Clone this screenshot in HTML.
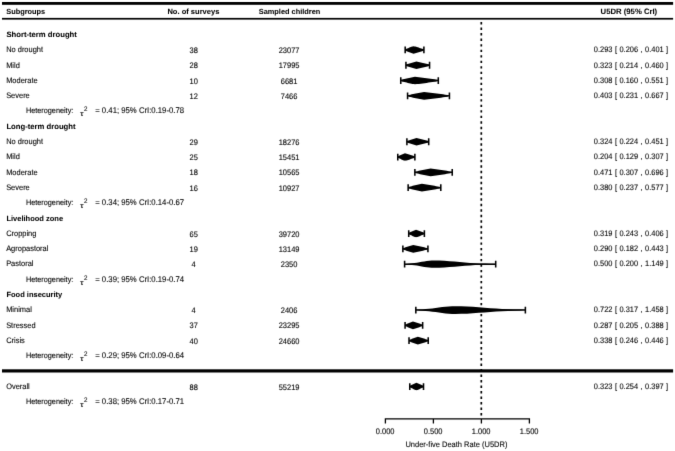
<!DOCTYPE html>
<html><head><meta charset="utf-8"><title>Forest plot</title>
<style>
html,body{margin:0;padding:0;background:#fff}
svg{display:block}
text{font-family:"Liberation Sans",Arial,Helvetica,sans-serif;font-size:7.97px;fill:#000;stroke:#000;stroke-width:0.1px;text-rendering:geometricPrecision}
.b{font-weight:bold;stroke-width:0.05px}
.m{text-anchor:middle}
.e{text-anchor:end}
</style></head><body>
<svg width="675" height="451" viewBox="0 0 675 451">
<defs><filter id="bl" x="0" y="0" width="675" height="451" filterUnits="userSpaceOnUse" color-interpolation-filters="sRGB"><feConvolveMatrix order="3" kernelMatrix="0 1 0 1 8 1 0 1 0" divisor="12" edgeMode="duplicate" preserveAlpha="false"/></filter></defs>
<g filter="url(#bl)">
<rect width="675" height="451" fill="#fff"/>

<rect x="2" y="2.0" width="671.1" height="2.8" fill="#000"/>
<rect x="2" y="17.9" width="671.1" height="1.7" fill="#000"/>
<rect x="2" y="369.3" width="671.1" height="3.2" fill="#000"/>
<text class="b" style="font-size:7.40px" transform="translate(6.20 14.00) scale(1.0000 1)">Subgroups</text>
<text class="b m" style="font-size:7.55px" transform="translate(193.40 14.00) scale(1.0000 1)">No. of surveys</text>
<text class="b m" style="font-size:7.38px" transform="translate(289.50 14.00) scale(1.0000 1)">Sampled children</text>
<text class="b e" style="font-size:7.72px" transform="translate(657.20 14.00) scale(1.0000 1)">U5DR (95% CrI)</text>
<line x1="481.3" y1="22.1" x2="481.3" y2="418.5" stroke="#000" stroke-width="1.7" stroke-dasharray="2.4 3.107"/>
<text class="b" style="font-size:7.70px" transform="translate(6.40 36.90) scale(1.0000 1)">Short-term drought</text>
<text style="font-size:7.97px" transform="translate(6.15 52.20) scale(0.9346 1)">No drought</text>
<text class="m" style="font-size:8.03px" transform="translate(193.70 53.00) scale(0.9346 1)">38</text>
<text class="m" style="font-size:8.03px" transform="translate(289.10 53.00) scale(0.9346 1)">23077</text>
<text class="e" style="font-size:7.97px" word-spacing="0.4" transform="translate(668.20 52.20) scale(0.9346 1)">0.293 [ 0.206 , 0.401 ]</text>
<path d="M405.18 46.55V53.35M423.90 46.55V53.35" stroke="#000" stroke-width="1.55" fill="none"/>
<path d="M405.18 49.95H423.90" stroke="#000" stroke-width="1.45" fill="none"/>
<path d="M405.18 49.45 L405.87 49.05 L406.57 48.73 L407.26 48.43 L407.96 48.15 L408.66 47.88 L409.35 47.62 L410.05 47.36 L410.74 47.11 L411.44 46.87 L412.14 46.62 L412.83 46.39 L413.53 46.15 L414.39 46.39 L415.26 46.62 L416.12 46.87 L416.98 47.11 L417.85 47.36 L418.71 47.62 L419.58 47.88 L420.44 48.15 L421.30 48.43 L422.17 48.73 L423.03 49.05 L423.90 49.45 L423.03 50.85 L422.17 51.17 L421.30 51.47 L420.44 51.75 L419.58 52.02 L418.71 52.28 L417.85 52.54 L416.98 52.79 L416.12 53.03 L415.26 53.28 L414.39 53.51 L413.53 53.75 L412.83 53.51 L412.14 53.28 L411.44 53.03 L410.74 52.79 L410.05 52.54 L409.35 52.28 L408.66 52.02 L407.96 51.75 L407.26 51.47 L406.57 51.17 L405.87 50.85Z" fill="#000"/>
<text style="font-size:7.97px" transform="translate(6.15 67.50) scale(0.9346 1)">Mild</text>
<text class="m" style="font-size:8.03px" transform="translate(193.70 68.30) scale(0.9346 1)">28</text>
<text class="m" style="font-size:8.03px" transform="translate(289.10 68.30) scale(0.9346 1)">17995</text>
<text class="e" style="font-size:7.97px" word-spacing="0.4" transform="translate(668.20 67.50) scale(0.9346 1)">0.323 [ 0.214 , 0.460 ]</text>
<path d="M405.94 61.85V68.65M429.56 61.85V68.65" stroke="#000" stroke-width="1.55" fill="none"/>
<path d="M405.94 65.25H429.56" stroke="#000" stroke-width="1.45" fill="none"/>
<path d="M405.94 64.75 L406.82 64.35 L407.69 64.03 L408.56 63.73 L409.43 63.45 L410.30 63.18 L411.18 62.92 L412.05 62.66 L412.92 62.41 L413.79 62.17 L414.66 61.92 L415.54 61.69 L416.41 61.45 L417.50 61.69 L418.60 61.92 L419.70 62.17 L420.79 62.41 L421.89 62.66 L422.98 62.92 L424.08 63.18 L425.18 63.45 L426.27 63.73 L427.37 64.03 L428.46 64.35 L429.56 64.75 L428.46 66.15 L427.37 66.47 L426.27 66.77 L425.18 67.05 L424.08 67.32 L422.98 67.58 L421.89 67.84 L420.79 68.09 L419.70 68.33 L418.60 68.58 L417.50 68.81 L416.41 69.05 L415.54 68.81 L414.66 68.58 L413.79 68.33 L412.92 68.09 L412.05 67.84 L411.18 67.58 L410.30 67.32 L409.43 67.05 L408.56 66.77 L407.69 66.47 L406.82 66.15Z" fill="#000"/>
<text style="font-size:7.97px" transform="translate(6.15 82.80) scale(0.9346 1)">Moderate</text>
<text class="m" style="font-size:8.03px" transform="translate(193.70 83.60) scale(0.9346 1)">10</text>
<text class="m" style="font-size:8.03px" transform="translate(289.10 83.60) scale(0.9346 1)">6681</text>
<text class="e" style="font-size:7.97px" word-spacing="0.4" transform="translate(668.20 82.80) scale(0.9346 1)">0.308 [ 0.160 , 0.551 ]</text>
<path d="M400.76 77.15V83.95M438.30 77.15V83.95" stroke="#000" stroke-width="1.55" fill="none"/>
<path d="M400.76 80.55H438.30" stroke="#000" stroke-width="1.45" fill="none"/>
<path d="M400.76 80.05 L401.94 79.65 L403.13 79.33 L404.31 79.03 L405.50 78.75 L406.68 78.48 L407.86 78.22 L409.05 77.96 L410.23 77.71 L411.42 77.47 L412.60 77.22 L413.78 76.99 L414.97 76.75 L416.91 76.99 L418.86 77.22 L420.80 77.47 L422.74 77.71 L424.69 77.96 L426.63 78.22 L428.58 78.48 L430.52 78.75 L432.46 79.03 L434.41 79.33 L436.35 79.65 L438.30 80.05 L436.35 81.45 L434.41 81.77 L432.46 82.07 L430.52 82.35 L428.58 82.62 L426.63 82.88 L424.69 83.14 L422.74 83.39 L420.80 83.63 L418.86 83.88 L416.91 84.11 L414.97 84.35 L413.78 84.11 L412.60 83.88 L411.42 83.63 L410.23 83.39 L409.05 83.14 L407.86 82.88 L406.68 82.62 L405.50 82.35 L404.31 82.07 L403.13 81.77 L401.94 81.45Z" fill="#000"/>
<text style="font-size:7.97px" transform="translate(6.15 98.10) scale(0.9346 1)">Severe</text>
<text class="m" style="font-size:8.03px" transform="translate(193.70 98.90) scale(0.9346 1)">12</text>
<text class="m" style="font-size:8.03px" transform="translate(289.10 98.90) scale(0.9346 1)">7466</text>
<text class="e" style="font-size:7.97px" word-spacing="0.4" transform="translate(668.20 98.10) scale(0.9346 1)">0.403 [ 0.231 , 0.667 ]</text>
<path d="M407.58 92.45V99.25M449.43 92.45V99.25" stroke="#000" stroke-width="1.55" fill="none"/>
<path d="M407.58 95.85H449.43" stroke="#000" stroke-width="1.45" fill="none"/>
<path d="M407.58 95.35 L408.95 94.95 L410.33 94.63 L411.70 94.33 L413.08 94.05 L414.46 93.78 L415.83 93.52 L417.21 93.26 L418.58 93.01 L419.96 92.77 L421.34 92.52 L422.71 92.29 L424.09 92.05 L426.20 92.29 L428.31 92.52 L430.42 92.77 L432.54 93.01 L434.65 93.26 L436.76 93.52 L438.87 93.78 L440.98 94.05 L443.10 94.33 L445.21 94.63 L447.32 94.95 L449.43 95.35 L447.32 96.75 L445.21 97.07 L443.10 97.37 L440.98 97.65 L438.87 97.92 L436.76 98.18 L434.65 98.44 L432.54 98.69 L430.42 98.93 L428.31 99.18 L426.20 99.41 L424.09 99.65 L422.71 99.41 L421.34 99.18 L419.96 98.93 L418.58 98.69 L417.21 98.44 L415.83 98.18 L414.46 97.92 L413.08 97.65 L411.70 97.37 L410.33 97.07 L408.95 96.75Z" fill="#000"/>
<text style="font-size:7.81px" transform="translate(25.90 113.40) scale(0.9346 1)">Heterogeneity:</text>
<text style="font-size:7.20px" transform="translate(80.00 116.30) scale(1.2500 1)">τ</text>
<text style="font-size:6.63px" transform="translate(83.90 111.20) scale(0.9346 1)">2</text>
<text style="font-size:8.29px" transform="translate(95.20 113.40) scale(0.9346 1)">= 0.41; 95% CrI:0.19-0.78</text>
<text class="b" style="font-size:7.70px" transform="translate(6.40 128.70) scale(1.0000 1)">Long-term drought</text>
<text style="font-size:7.97px" transform="translate(6.15 144.00) scale(0.9346 1)">No drought</text>
<text class="m" style="font-size:8.03px" transform="translate(193.70 144.80) scale(0.9346 1)">29</text>
<text class="m" style="font-size:8.03px" transform="translate(289.10 144.80) scale(0.9346 1)">18276</text>
<text class="e" style="font-size:7.97px" word-spacing="0.4" transform="translate(668.20 144.00) scale(0.9346 1)">0.324 [ 0.224 , 0.451 ]</text>
<path d="M406.90 138.35V145.15M428.70 138.35V145.15" stroke="#000" stroke-width="1.55" fill="none"/>
<path d="M406.90 141.75H428.70" stroke="#000" stroke-width="1.45" fill="none"/>
<path d="M406.90 141.25 L407.70 140.85 L408.50 140.53 L409.30 140.23 L410.10 139.95 L410.90 139.68 L411.70 139.42 L412.50 139.16 L413.30 138.91 L414.10 138.67 L414.90 138.42 L415.70 138.19 L416.50 137.95 L417.52 138.19 L418.54 138.42 L419.55 138.67 L420.57 138.91 L421.58 139.16 L422.60 139.42 L423.62 139.68 L424.63 139.95 L425.65 140.23 L426.66 140.53 L427.68 140.85 L428.70 141.25 L427.68 142.65 L426.66 142.97 L425.65 143.27 L424.63 143.55 L423.62 143.82 L422.60 144.08 L421.58 144.34 L420.57 144.59 L419.55 144.83 L418.54 145.08 L417.52 145.31 L416.50 145.55 L415.70 145.31 L414.90 145.08 L414.10 144.83 L413.30 144.59 L412.50 144.34 L411.70 144.08 L410.90 143.82 L410.10 143.55 L409.30 143.27 L408.50 142.97 L407.70 142.65Z" fill="#000"/>
<text style="font-size:7.97px" transform="translate(6.15 159.30) scale(0.9346 1)">Mild</text>
<text class="m" style="font-size:8.03px" transform="translate(193.70 160.10) scale(0.9346 1)">25</text>
<text class="m" style="font-size:8.03px" transform="translate(289.10 160.10) scale(0.9346 1)">15451</text>
<text class="e" style="font-size:7.97px" word-spacing="0.4" transform="translate(668.20 159.30) scale(0.9346 1)">0.204 [ 0.129 , 0.307 ]</text>
<path d="M397.78 153.65V160.45M414.87 153.65V160.45" stroke="#000" stroke-width="1.55" fill="none"/>
<path d="M397.78 157.05H414.87" stroke="#000" stroke-width="1.45" fill="none"/>
<path d="M397.78 156.55 L398.38 156.15 L398.98 155.83 L399.58 155.53 L400.18 155.25 L400.78 154.98 L401.38 154.72 L401.98 154.46 L402.58 154.21 L403.18 153.97 L403.78 153.72 L404.38 153.49 L404.98 153.25 L405.81 153.49 L406.63 153.72 L407.46 153.97 L408.28 154.21 L409.10 154.46 L409.93 154.72 L410.75 154.98 L411.58 155.25 L412.40 155.53 L413.22 155.83 L414.05 156.15 L414.87 156.55 L414.05 157.95 L413.22 158.27 L412.40 158.57 L411.58 158.85 L410.75 159.12 L409.93 159.38 L409.10 159.64 L408.28 159.89 L407.46 160.13 L406.63 160.38 L405.81 160.61 L404.98 160.85 L404.38 160.61 L403.78 160.38 L403.18 160.13 L402.58 159.89 L401.98 159.64 L401.38 159.38 L400.78 159.12 L400.18 158.85 L399.58 158.57 L398.98 158.27 L398.38 157.95Z" fill="#000"/>
<text style="font-size:7.97px" transform="translate(6.15 174.60) scale(0.9346 1)">Moderate</text>
<text class="m" style="font-size:8.03px" transform="translate(193.70 175.40) scale(0.9346 1)">18</text>
<text class="m" style="font-size:8.03px" transform="translate(289.10 175.40) scale(0.9346 1)">10565</text>
<text class="e" style="font-size:7.97px" word-spacing="0.4" transform="translate(668.20 174.60) scale(0.9346 1)">0.471 [ 0.307 , 0.696 ]</text>
<path d="M414.87 168.95V175.75M452.22 168.95V175.75" stroke="#000" stroke-width="1.55" fill="none"/>
<path d="M414.87 172.35H452.22" stroke="#000" stroke-width="1.45" fill="none"/>
<path d="M414.87 171.85 L416.18 171.45 L417.50 171.13 L418.81 170.83 L420.12 170.55 L421.43 170.28 L422.74 170.02 L424.06 169.76 L425.37 169.51 L426.68 169.27 L427.99 169.02 L429.30 168.79 L430.62 168.55 L432.42 168.79 L434.22 169.02 L436.02 169.27 L437.82 169.51 L439.62 169.76 L441.42 170.02 L443.22 170.28 L445.02 170.55 L446.82 170.83 L448.62 171.13 L450.42 171.45 L452.22 171.85 L450.42 173.25 L448.62 173.57 L446.82 173.87 L445.02 174.15 L443.22 174.42 L441.42 174.68 L439.62 174.94 L437.82 175.19 L436.02 175.43 L434.22 175.68 L432.42 175.91 L430.62 176.15 L429.30 175.91 L427.99 175.68 L426.68 175.43 L425.37 175.19 L424.06 174.94 L422.74 174.68 L421.43 174.42 L420.12 174.15 L418.81 173.87 L417.50 173.57 L416.18 173.25Z" fill="#000"/>
<text style="font-size:7.97px" transform="translate(6.15 189.90) scale(0.9346 1)">Severe</text>
<text class="m" style="font-size:8.03px" transform="translate(193.70 190.70) scale(0.9346 1)">16</text>
<text class="m" style="font-size:8.03px" transform="translate(289.10 190.70) scale(0.9346 1)">10927</text>
<text class="e" style="font-size:7.97px" word-spacing="0.4" transform="translate(668.20 189.90) scale(0.9346 1)">0.380 [ 0.237 , 0.577 ]</text>
<path d="M408.15 184.25V191.05M440.79 184.25V191.05" stroke="#000" stroke-width="1.55" fill="none"/>
<path d="M408.15 187.65H440.79" stroke="#000" stroke-width="1.45" fill="none"/>
<path d="M408.15 187.15 L409.30 186.75 L410.44 186.43 L411.58 186.13 L412.73 185.85 L413.87 185.58 L415.02 185.32 L416.16 185.06 L417.30 184.81 L418.45 184.57 L419.59 184.32 L420.74 184.09 L421.88 183.85 L423.46 184.09 L425.03 184.32 L426.61 184.57 L428.18 184.81 L429.76 185.06 L431.34 185.32 L432.91 185.58 L434.49 185.85 L436.06 186.13 L437.64 186.43 L439.22 186.75 L440.79 187.15 L439.22 188.55 L437.64 188.87 L436.06 189.17 L434.49 189.45 L432.91 189.72 L431.34 189.98 L429.76 190.24 L428.18 190.49 L426.61 190.73 L425.03 190.98 L423.46 191.21 L421.88 191.45 L420.74 191.21 L419.59 190.98 L418.45 190.73 L417.30 190.49 L416.16 190.24 L415.02 189.98 L413.87 189.72 L412.73 189.45 L411.58 189.17 L410.44 188.87 L409.30 188.55Z" fill="#000"/>
<text style="font-size:7.81px" transform="translate(25.90 205.20) scale(0.9346 1)">Heterogeneity:</text>
<text style="font-size:7.20px" transform="translate(80.00 208.10) scale(1.2500 1)">τ</text>
<text style="font-size:6.63px" transform="translate(83.90 203.00) scale(0.9346 1)">2</text>
<text style="font-size:8.29px" transform="translate(95.20 205.20) scale(0.9346 1)">= 0.34; 95% CrI:0.14-0.67</text>
<text class="b" style="font-size:7.50px" transform="translate(6.40 220.50) scale(1.0000 1)">Livelihood zone</text>
<text style="font-size:7.97px" transform="translate(6.15 235.80) scale(0.9346 1)">Cropping</text>
<text class="m" style="font-size:8.03px" transform="translate(193.70 236.60) scale(0.9346 1)">65</text>
<text class="m" style="font-size:8.03px" transform="translate(289.10 236.60) scale(0.9346 1)">39720</text>
<text class="e" style="font-size:7.97px" word-spacing="0.4" transform="translate(668.20 235.80) scale(0.9346 1)">0.319 [ 0.243 , 0.406 ]</text>
<path d="M408.73 230.15V236.95M424.38 230.15V236.95" stroke="#000" stroke-width="1.55" fill="none"/>
<path d="M408.73 233.55H424.38" stroke="#000" stroke-width="1.45" fill="none"/>
<path d="M408.73 233.05 L409.34 232.65 L409.94 232.33 L410.55 232.03 L411.16 231.75 L411.77 231.48 L412.38 231.22 L412.98 230.96 L413.59 230.71 L414.20 230.47 L414.81 230.22 L415.42 229.99 L416.02 229.75 L416.72 229.99 L417.42 230.22 L418.11 230.47 L418.81 230.71 L419.50 230.96 L420.20 231.22 L420.90 231.48 L421.59 231.75 L422.29 232.03 L422.98 232.33 L423.68 232.65 L424.38 233.05 L423.68 234.45 L422.98 234.77 L422.29 235.07 L421.59 235.35 L420.90 235.62 L420.20 235.88 L419.50 236.14 L418.81 236.39 L418.11 236.63 L417.42 236.88 L416.72 237.11 L416.02 237.35 L415.42 237.11 L414.81 236.88 L414.20 236.63 L413.59 236.39 L412.98 236.14 L412.38 235.88 L411.77 235.62 L411.16 235.35 L410.55 235.07 L409.94 234.77 L409.34 234.45Z" fill="#000"/>
<text style="font-size:7.97px" transform="translate(6.15 251.10) scale(0.9346 1)">Agropastoral</text>
<text class="m" style="font-size:8.03px" transform="translate(193.70 251.90) scale(0.9346 1)">19</text>
<text class="m" style="font-size:8.03px" transform="translate(289.10 251.90) scale(0.9346 1)">13149</text>
<text class="e" style="font-size:7.97px" word-spacing="0.4" transform="translate(668.20 251.10) scale(0.9346 1)">0.290 [ 0.182 , 0.443 ]</text>
<path d="M402.87 245.45V252.25M427.93 245.45V252.25" stroke="#000" stroke-width="1.55" fill="none"/>
<path d="M402.87 248.85H427.93" stroke="#000" stroke-width="1.45" fill="none"/>
<path d="M402.87 248.35 L403.74 247.95 L404.60 247.63 L405.46 247.33 L406.33 247.05 L407.19 246.78 L408.06 246.52 L408.92 246.26 L409.78 246.01 L410.65 245.77 L411.51 245.52 L412.38 245.29 L413.24 245.05 L414.46 245.29 L415.69 245.52 L416.91 245.77 L418.14 246.01 L419.36 246.26 L420.58 246.52 L421.81 246.78 L423.03 247.05 L424.26 247.33 L425.48 247.63 L426.70 247.95 L427.93 248.35 L426.70 249.75 L425.48 250.07 L424.26 250.37 L423.03 250.65 L421.81 250.92 L420.58 251.18 L419.36 251.44 L418.14 251.69 L416.91 251.93 L415.69 252.18 L414.46 252.41 L413.24 252.65 L412.38 252.41 L411.51 252.18 L410.65 251.93 L409.78 251.69 L408.92 251.44 L408.06 251.18 L407.19 250.92 L406.33 250.65 L405.46 250.37 L404.60 250.07 L403.74 249.75Z" fill="#000"/>
<text style="font-size:7.97px" transform="translate(6.15 266.40) scale(0.9346 1)">Pastoral</text>
<text class="m" style="font-size:8.03px" transform="translate(193.70 267.20) scale(0.9346 1)">4</text>
<text class="m" style="font-size:8.03px" transform="translate(289.10 267.20) scale(0.9346 1)">2350</text>
<text class="e" style="font-size:7.97px" word-spacing="0.4" transform="translate(668.20 266.40) scale(0.9346 1)">0.500 [ 0.200 , 1.149 ]</text>
<path d="M404.60 260.75V267.55M495.70 260.75V267.55" stroke="#000" stroke-width="1.55" fill="none"/>
<path d="M404.60 264.15H495.70" stroke="#000" stroke-width="1.45" fill="none"/>
<path d="M404.60 263.91 L407.06 263.77 L409.51 263.59 L411.97 263.35 L414.42 263.05 L416.88 262.69 L419.34 262.28 L421.79 261.84 L424.25 261.42 L426.70 261.03 L429.16 260.72 L431.62 260.52 L434.07 260.45 L439.21 260.54 L444.34 260.80 L449.48 261.18 L454.62 261.62 L459.75 262.08 L464.89 262.51 L470.02 262.88 L475.16 263.18 L480.30 263.42 L485.43 263.60 L490.57 263.74 L495.70 263.85 L490.57 264.56 L485.43 264.70 L480.30 264.88 L475.16 265.12 L470.02 265.42 L464.89 265.79 L459.75 266.22 L454.62 266.68 L449.48 267.12 L444.34 267.50 L439.21 267.76 L434.07 267.85 L431.62 267.78 L429.16 267.58 L426.70 267.27 L424.25 266.88 L421.79 266.46 L419.34 266.02 L416.88 265.61 L414.42 265.25 L411.97 264.95 L409.51 264.71 L407.06 264.53Z" fill="#000"/>
<text style="font-size:7.81px" transform="translate(25.90 281.70) scale(0.9346 1)">Heterogeneity:</text>
<text style="font-size:7.20px" transform="translate(80.00 284.60) scale(1.2500 1)">τ</text>
<text style="font-size:6.63px" transform="translate(83.90 279.50) scale(0.9346 1)">2</text>
<text style="font-size:8.29px" transform="translate(95.20 281.70) scale(0.9346 1)">= 0.39; 95% CrI:0.19-0.74</text>
<text class="b" style="font-size:7.50px" transform="translate(6.40 297.00) scale(1.0000 1)">Food insecurity</text>
<text style="font-size:7.97px" transform="translate(6.15 312.30) scale(0.9346 1)">Minimal</text>
<text class="m" style="font-size:8.03px" transform="translate(193.70 313.10) scale(0.9346 1)">4</text>
<text class="m" style="font-size:8.03px" transform="translate(289.10 313.10) scale(0.9346 1)">2406</text>
<text class="e" style="font-size:7.97px" word-spacing="0.4" transform="translate(668.20 312.30) scale(0.9346 1)">0.722 [ 0.317 , 1.458 ]</text>
<path d="M415.83 306.65V313.45M525.37 306.65V313.45" stroke="#000" stroke-width="1.55" fill="none"/>
<path d="M415.83 310.05H525.37" stroke="#000" stroke-width="1.45" fill="none"/>
<path d="M415.83 309.74 L419.13 309.59 L422.42 309.38 L425.72 309.12 L429.02 308.79 L432.31 308.41 L435.61 307.98 L438.90 307.54 L442.20 307.11 L445.50 306.72 L448.79 306.42 L452.09 306.22 L455.38 306.15 L461.22 306.23 L467.05 306.46 L472.88 306.82 L478.71 307.25 L484.54 307.71 L490.38 308.16 L496.21 308.56 L502.04 308.91 L507.87 309.20 L513.70 309.42 L519.54 309.59 L525.37 309.72 L519.54 310.51 L513.70 310.68 L507.87 310.90 L502.04 311.19 L496.21 311.54 L490.38 311.94 L484.54 312.39 L478.71 312.85 L472.88 313.28 L467.05 313.64 L461.22 313.87 L455.38 313.95 L452.09 313.88 L448.79 313.68 L445.50 313.38 L442.20 312.99 L438.90 312.56 L435.61 312.12 L432.31 311.69 L429.02 311.31 L425.72 310.98 L422.42 310.72 L419.13 310.51Z" fill="#000"/>
<text style="font-size:7.97px" transform="translate(6.15 327.60) scale(0.9346 1)">Stressed</text>
<text class="m" style="font-size:8.03px" transform="translate(193.70 328.40) scale(0.9346 1)">37</text>
<text class="m" style="font-size:8.03px" transform="translate(289.10 328.40) scale(0.9346 1)">23295</text>
<text class="e" style="font-size:7.97px" word-spacing="0.4" transform="translate(668.20 327.60) scale(0.9346 1)">0.287 [ 0.205 , 0.388 ]</text>
<path d="M405.08 321.95V328.75M422.65 321.95V328.75" stroke="#000" stroke-width="1.55" fill="none"/>
<path d="M405.08 325.35H422.65" stroke="#000" stroke-width="1.45" fill="none"/>
<path d="M405.08 324.85 L405.74 324.45 L406.39 324.13 L407.05 323.83 L407.70 323.55 L408.36 323.28 L409.02 323.02 L409.67 322.76 L410.33 322.51 L410.98 322.27 L411.64 322.02 L412.30 321.79 L412.95 321.55 L413.76 321.79 L414.57 322.02 L415.38 322.27 L416.18 322.51 L416.99 322.76 L417.80 323.02 L418.61 323.28 L419.42 323.55 L420.22 323.83 L421.03 324.13 L421.84 324.45 L422.65 324.85 L421.84 326.25 L421.03 326.57 L420.22 326.87 L419.42 327.15 L418.61 327.42 L417.80 327.68 L416.99 327.94 L416.18 328.19 L415.38 328.43 L414.57 328.68 L413.76 328.91 L412.95 329.15 L412.30 328.91 L411.64 328.68 L410.98 328.43 L410.33 328.19 L409.67 327.94 L409.02 327.68 L408.36 327.42 L407.70 327.15 L407.05 326.87 L406.39 326.57 L405.74 326.25Z" fill="#000"/>
<text style="font-size:7.97px" transform="translate(6.15 342.90) scale(0.9346 1)">Crisis</text>
<text class="m" style="font-size:8.03px" transform="translate(193.70 343.70) scale(0.9346 1)">40</text>
<text class="m" style="font-size:8.03px" transform="translate(289.10 343.70) scale(0.9346 1)">24660</text>
<text class="e" style="font-size:7.97px" word-spacing="0.4" transform="translate(668.20 342.90) scale(0.9346 1)">0.338 [ 0.246 , 0.446 ]</text>
<path d="M409.02 337.25V344.05M428.22 337.25V344.05" stroke="#000" stroke-width="1.55" fill="none"/>
<path d="M409.02 340.65H428.22" stroke="#000" stroke-width="1.45" fill="none"/>
<path d="M409.02 340.15 L409.75 339.75 L410.49 339.43 L411.22 339.13 L411.96 338.85 L412.70 338.58 L413.43 338.32 L414.17 338.06 L414.90 337.81 L415.64 337.57 L416.38 337.32 L417.11 337.09 L417.85 336.85 L418.71 337.09 L419.58 337.32 L420.44 337.57 L421.30 337.81 L422.17 338.06 L423.03 338.32 L423.90 338.58 L424.76 338.85 L425.62 339.13 L426.49 339.43 L427.35 339.75 L428.22 340.15 L427.35 341.55 L426.49 341.87 L425.62 342.17 L424.76 342.45 L423.90 342.72 L423.03 342.98 L422.17 343.24 L421.30 343.49 L420.44 343.73 L419.58 343.98 L418.71 344.21 L417.85 344.45 L417.11 344.21 L416.38 343.98 L415.64 343.73 L414.90 343.49 L414.17 343.24 L413.43 342.98 L412.70 342.72 L411.96 342.45 L411.22 342.17 L410.49 341.87 L409.75 341.55Z" fill="#000"/>
<text style="font-size:7.81px" transform="translate(25.90 358.20) scale(0.9346 1)">Heterogeneity:</text>
<text style="font-size:7.20px" transform="translate(80.00 361.10) scale(1.2500 1)">τ</text>
<text style="font-size:6.63px" transform="translate(83.90 356.00) scale(0.9346 1)">2</text>
<text style="font-size:8.29px" transform="translate(95.20 358.20) scale(0.9346 1)">= 0.29; 95% CrI:0.09-0.64</text>
<text style="font-size:7.97px" transform="translate(6.15 388.80) scale(0.9346 1)">Overall</text>
<text class="m" style="font-size:8.03px" transform="translate(193.70 389.60) scale(0.9346 1)">88</text>
<text class="m" style="font-size:8.03px" transform="translate(289.10 389.60) scale(0.9346 1)">55219</text>
<text class="e" style="font-size:7.97px" word-spacing="0.4" transform="translate(668.20 388.80) scale(0.9346 1)">0.323 [ 0.254 , 0.397 ]</text>
<path d="M409.78 383.15V389.95M423.51 383.15V389.95" stroke="#000" stroke-width="1.55" fill="none"/>
<path d="M409.78 386.55H423.51" stroke="#000" stroke-width="1.45" fill="none"/>
<path d="M409.78 386.05 L410.34 385.65 L410.89 385.33 L411.44 385.03 L411.99 384.75 L412.54 384.48 L413.10 384.22 L413.65 383.96 L414.20 383.71 L414.75 383.47 L415.30 383.22 L415.86 382.99 L416.41 382.75 L417.00 382.99 L417.59 383.22 L418.18 383.47 L418.78 383.71 L419.37 383.96 L419.96 384.22 L420.55 384.48 L421.14 384.75 L421.74 385.03 L422.33 385.33 L422.92 385.65 L423.51 386.05 L422.92 387.45 L422.33 387.77 L421.74 388.07 L421.14 388.35 L420.55 388.62 L419.96 388.88 L419.37 389.14 L418.78 389.39 L418.18 389.63 L417.59 389.88 L417.00 390.11 L416.41 390.35 L415.86 390.11 L415.30 389.88 L414.75 389.63 L414.20 389.39 L413.65 389.14 L413.10 388.88 L412.54 388.62 L411.99 388.35 L411.44 388.07 L410.89 387.77 L410.34 387.45Z" fill="#000"/>
<text style="font-size:7.81px" transform="translate(25.90 404.10) scale(0.9346 1)">Heterogeneity:</text>
<text style="font-size:7.20px" transform="translate(80.00 407.00) scale(1.2500 1)">τ</text>
<text style="font-size:6.63px" transform="translate(83.90 401.90) scale(0.9346 1)">2</text>
<text style="font-size:8.29px" transform="translate(95.20 404.10) scale(0.9346 1)">= 0.38; 95% CrI:0.17-0.71</text>
<path d="M385.40 418.9H529.40M385.40 418.29999999999995v5.1M433.40 418.29999999999995v5.1M481.40 418.29999999999995v5.1M529.40 418.29999999999995v5.1" stroke="#000" stroke-width="1.3" fill="none"/>
<text class="m" style="font-size:8.03px" transform="translate(385.10 434.15) scale(0.9346 1)">0.000</text>
<text class="m" style="font-size:8.03px" transform="translate(433.10 434.15) scale(0.9346 1)">0.500</text>
<text class="m" style="font-size:8.03px" transform="translate(481.10 434.15) scale(0.9346 1)">1.000</text>
<text class="m" style="font-size:8.03px" transform="translate(529.10 434.15) scale(0.9346 1)">1.500</text>
<text class="m" style="font-size:8.03px" transform="translate(456.40 447.35) scale(0.9346 1)">Under-five Death Rate (U5DR)</text>
</g></svg></body></html>
